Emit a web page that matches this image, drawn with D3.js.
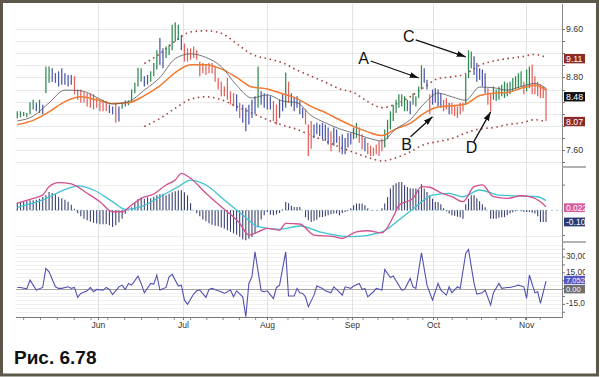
<!DOCTYPE html>
<html>
<head>
<meta charset="utf-8">
<script src="https://cdn.jsdelivr.net/npm/d3@7"></script>
<style>
  body { margin: 0; background: #fff; }
  svg { display: block; }
  text { font-family: Arial, "Liberation Sans", sans-serif; }
</style>
</head>
<body>
<svg id="chart" width="600" height="377"></svg>
<script>
// ---- price bars (high / low), one per session ----
const hi = [
  8.24,8.24,8.23,8.21,8.39,8.43,8.38,8.43,8.35,8.98, 8.98,8.95,8.87,8.90,8.95,8.87,8.84,8.84,8.82,8.60,
  8.60,8.56,8.54,8.54,8.52,8.46,8.43,8.43,8.41,8.35, 8.32,8.38,8.32,8.39,8.42,8.42,8.60,8.71,8.96,8.95,
  8.82,8.84,8.90,
  9.04,9.25,9.45,9.28,9.31,9.34,9.67,9.71,9.67,9.50, 9.36,9.28,9.28,9.31,9.25,9.06,9.04,9.01,9.04,9.04,
  8.98,8.79,8.73,8.65,8.79,8.57,8.54,8.52,8.38,8.35, 8.30,8.35,8.43,8.49,8.98,8.57,8.54,8.52,8.49,8.41,
  8.35,8.43,8.52,8.88,
  8.73,8.54,8.46,8.49,8.41,8.30,8.27,8.02,8.08,8.02, 8.05,8.02,8.05,8.02,7.97,7.91,7.97,7.94,7.83,7.86,
  7.80,7.88,7.88,7.97,8.05,7.97,7.86,7.80,7.72,7.67, 7.64,7.69,7.75,7.78,7.94,8.10,8.24,8.35,8.43,8.52,
  8.52,8.49,8.43,8.41,8.54,8.49,8.65,
  9.00,8.95,8.76,8.52,8.60,8.62,8.60,8.54,8.43,8.46, 8.38,8.38,8.35,8.32,8.38,8.38,8.84,9.25,9.23,9.15,
  9.04,8.95,8.93,8.87,8.62,8.52,8.65,8.60,8.65,8.68, 8.73,8.71,8.73,8.79,8.82,8.87,8.90,8.73,8.93,8.98,
  9.01,8.82,8.73,8.68,8.65,8.62
];
const lo = [
  8.12,8.14,8.16,8.14,8.19,8.27,8.24,8.21,8.19,8.54, 8.71,8.73,8.71,8.65,8.68,8.68,8.65,8.68,8.52,8.43,
  8.38,8.38,8.32,8.30,8.27,8.30,8.24,8.24,8.24,8.21, 8.19,8.05,8.07,8.28,8.32,8.34,8.38,8.54,8.65,8.73,
  8.65,8.68,8.73,
  8.82,8.93,9.01,8.95,9.12,9.17,9.25,9.39,9.42,9.25, 9.06,9.06,9.09,9.12,9.09,8.82,8.87,8.84,8.87,8.87,
  8.73,8.60,8.49,8.49,8.43,8.35,8.32,8.24,8.13,8.05, 7.91,8.02,8.13,8.19,8.30,8.35,8.30,8.27,8.27,8.08,
  8.02,8.13,8.24,8.30,
  8.38,8.32,8.24,8.30,8.19,8.13,8.02,7.50,7.62,7.80, 7.86,7.83,7.78,7.75,7.69,7.58,7.67,7.72,7.56,7.53,
  7.53,7.64,7.69,7.78,7.80,7.72,7.61,7.58,7.53,7.50, 7.50,7.53,7.50,7.58,7.64,7.78,7.94,8.08,8.21,8.30,
  8.32,8.24,8.24,8.19,8.35,8.32,8.46,
  8.60,8.71,8.60,8.19,8.35,8.38,8.32,8.30,8.24,8.27, 8.19,8.19,8.16,8.13,8.19,8.24,8.35,8.79,8.95,8.84,
  8.73,8.76,8.65,8.54,8.35,8.24,8.43,8.41,8.43,8.49, 8.46,8.49,8.52,8.57,8.60,8.62,8.65,8.52,8.57,8.62,
  8.52,8.52,8.49,8.46,8.46,8.08
];
// impulse colour of each bar: g = up, r = down, b = neutral
const impulse = (
  "ggggggbgbg" + "gbbbbbbbrr" + "rrrrrrrrrb" + "brbgbggggg" + "bbg" +
  "ggbbgggggb" + "rrrrrrrrrr" + "rrrrrrrbrb" + "bbbbgbbbbr" + "rbbg" +
  "rbbbbbrrrb" + "bbbbbrbbrb" + "bbbbgrrbrr" + "rrrrgggggg" + "gggbggg" +
  "gbbrbbbbrr" + "brrrrrgggb" + "bbbbrrgggg" + "gggggggrgg" + "rrrrrr"
).split("");

// ---- moving averages and channel, read every 5 bars ----
const STEP = 5;
const emaFast = [8.08,8.16,8.38,8.59,8.58,8.47,8.36,8.40,8.59,8.80,9.11,9.19,9.13,8.98,8.67,8.46,8.51,8.41,
  8.38,8.17,8.05,7.95,7.88,7.80,7.75,7.95,8.10,8.37,8.54,8.48,8.42,8.64,8.63,8.59,8.65,8.70,8.62];
const emaSlow = [8.02,8.09,8.23,8.40,8.48,8.43,8.37,8.38,8.50,8.66,8.88,9.01,9.01,8.94,8.80,8.64,8.61,8.53,
  8.45,8.32,8.22,8.10,7.99,7.90,7.84,7.95,8.04,8.21,8.31,8.33,8.36,8.50,8.54,8.55,8.62,8.67,8.59];
const bandUp = [null,null,null,null,null,null,null,null,
  9.03,9.19,9.40,9.55,9.57,9.53,9.36,9.18,9.11,9.04,8.92,8.82,8.72,8.61,8.55,8.40,8.30,8.36,8.48,8.64,
  8.78,8.81,8.86,9.00,9.07,9.11,9.14,9.18,9.13];
const bandLo = [null,null,null,null,null,null,null,null,
  7.99,8.12,8.29,8.44,8.48,8.43,8.32,8.21,8.10,8.01,7.94,7.84,7.75,7.65,7.56,7.48,7.42,7.47,7.57,7.69,
  7.74,7.79,7.88,7.95,7.97,8.02,8.05,8.10,8.07];

// ---- MACD: histogram per bar, lines as [bar, value] ----
const macdHist = [
  .053,.058,.059,.065,.069,.069,.074,.081,.092,.104, .127,.120,.111,.092,.083,.073,.059,.038,.010,-.021,
  -.042,-.059,-.069,-.080,-.087,-.092,-.097,-.097,-.097,-.104, -.116,-.104,-.083,-.059,-.024,-.003,.021,.052,.076,.087,
  .081,.090,.083,.094,.104,.111,.115,.104,.115,.125, .132,.137,.139,.125,.104,.049,.003,-.021,-.042,-.063,
  -.076,-.090,-.101,-.108,-.111,-.120,-.127,-.139,-.149,-.160, -.170,-.184,-.201,-.208,-.197,-.185,-.162,-.118,-.063,-.035,
  -.012,-.031,-.035,-.028,-.019,.005,.058,.049,.031, .023,.023,.023,0,-.047,-.069,-.081,-.073,-.065,-.049,
  -.047,-.042,-.035,-.028,-.023,-.023,-.035,-.019,-.012,-.005, .014,.035,.047,.047,.047,.035,.014,.003,.003,.003,
  .003,.014,.047,.092,.151,.174,.188,.197,.197,.174, .162,.153,.151,.151,.139,.181,.151,.127,.104,.081,
  .058,.058,.042,.014,-.007,-.023,-.035,-.038,-.045,-.049, -.058,.042,.081,.104,.104,.083,.063,.042,.021,0,
  -.058,-.058,-.058,-.052,-.049,-.047,-.035,-.023,-.014,-.007, .003,-.007,-.012,-.012,-.012,-.017,-.023,-.042,-.081,-.081,-.081
];
const macdLine = [[0,.050],[5,.083],[8,.106],[10,.164],[13,.192],[17,.183],[22,.118],[26,.060],[30,-.010],[33,-.010],
  [36,.037],[39,.083],[43,.113],[47,.176],[50,.210],[52,.257],[55,.222],[60,.118],[65,.025],[71,-.090],[74,-.172],
  [77,-.149],[80,-.125],[84,-.137],[86,-.090],[91,-.095],[96,-.172],[103,-.183],[106,-.194],[111,-.149],[115,-.142],
  [120,-.156],[124,-.045],[126,.035],[131,.083],[134,.164],[137,.160],[141,.122],[145,.095],[149,.060],[153,.164],
  [156,.176],[160,.095],[165,.083],[170,.101],[173,.095],[177,.060],[179,.025]];
const signalLine = [[0,.021],[8,.072],[16,.153],[19,.169],[24,.141],[30,.060],[34,.007],[39,.025],[45,.094],[51,.164],
  [55,.210],[60,.176],[66,.072],[72,-.033],[77,-.114],[84,-.132],[91,-.109],[98,-.149],[109,-.183],[120,-.149],
  [126,-.067],[132,.025],[138,.106],[144,.118],[149,.094],[155,.141],[162,.106],[170,.099],[176,.094],[179,.067]];

// ---- lower oscillator, [bar, value] ----
const osc = [[0,1.1],[1,1.1],[3,-0.2],[4,8.1],[5,3.3],[6,-1.4],[8,1.1],[9,19.2],[10,16],[12,1.7],[13,0.2],[14,0.2],
  [16,1.7],[17,0.2],[18,1.1],[19,-8.4],[20,-4.6],[22,-2.1],[23,1.1],[24,-3],[25,-0.8],[27,-1.4],[28,1.1],[29,-0.8],
  [30,-5.6],[32,1.7],[33,3.3],[34,-0.8],[35,4.9],[36,3.3],[38,11.9],[39,4.9],[40,-4],[42,4.9],[43,4.3],[44,12.9],
  [45,-1.4],[47,1.1],[48,11.3],[49,13.5],[51,2.4],[52,3.3],[53,-11],[54,-14.8],[56,-5.2],[57,-2.1],[58,-1.4],
  [60,-8.4],[61,-0.8],[62,0.2],[64,-2.1],[65,-3],[66,-4.6],[68,-1.4],[69,-7.8],[70,-2.1],[72,-7.8],[73,-26.8],
  [74,4.9],[75,11.3],[76,35],[78,-2.1],[79,-3],[80,-2.1],[82,-9.4],[83,1.1],[84,3.3],[86,35],[87,-7.1],[89,-7.1],
  [90,0.2],[91,-4],[92,-4.6],[93,-7.8],[94,-17.3],[96,-6.2],[97,2.4],[99,0.2],[100,-2.1],[102,-4],[103,1.7],
  [104,-0.8],[106,-6.2],[107,1.7],[109,0.2],[110,2.4],[112,4.9],[113,-0.8],[114,0.2],[115,-7.8],[117,-3],[118,0.2],
  [120,-1.4],[121,18.3],[123,10.6],[124,11.9],[125,7.5],[127,-1.4],[128,-0.8],[130,9.7],[131,1.7],[132,0.2],
  [134,34.1],[136,3.3],[137,-4],[138,-11],[140,4.9],[141,-1.4],[143,-6.2],[144,1.7],[145,-4],[147,1.7],[148,0.2],
  [150,33.5],[151,37.3],[153,4.9],[154,-5.2],[156,-4],[157,-1.4],[159,-15.7],[160,-4],[162,4.9],[163,0.2],
  [165,1.1],[166,1.1],[168,2.4],[169,3.3],[171,1.7],[172,-9.4],[173,12.9],[175,-4],[176,-3],[177,-14.1],[179,7.05]];

// ---- axis labels ----
const months = ["Jun", "Jul", "Aug", "Sep", "Oct", "Nov"];
const monthAt = [25.4, 52.5, 79.9, 109.4, 138.2, 171.8];
const priceLabels = [9.6, 8.8, 7.6];
const oscLabels = [[30, "30,00"], [15, "15,00"], [-15, "-15,00"]];
const priceBadges = [[9.11, "9.11", "#8e2b28"], [8.48, "8.48", "#111111"], [8.07, "8.07", "#8e2b28"]];
const notes = [["A", 133, 8.79], ["B", 138, 8.15], ["C", 150, 9.14], ["D", 159, 8.23]];

// ---- layout ----
const svg = d3.select("#chart");
const plot = { left: 16, right: 562, top: 4, axisY: 317 };
const N = hi.length;
const colors = { g: "#2f8a52", b: "#4c57a8", r: "#e4605a" };

const x = d3.scaleLinear().domain([0, 42, 86, 133, N - 1]).range([17.3, 150.7, 285.7, 418.7, 546]);
const y = d3.scaleLinear().domain([7.6, 9.6]).range([150, 29]);
const yM = d3.scaleLinear().domain([-0.22, 0.30]).range([242, 167.1]);
const yO = d3.scaleLinear().domain([-27, 44.3]).range([317, 242]);

svg.append("rect").attr("width", 600).attr("height", 377).attr("fill", "#fff");

// grids
const grid = svg.append("g").attr("stroke-width", 1).attr("fill", "none");
const priceGrid = d3.range(37, 49).map(v => v / 5);
grid.selectAll(".pg").data(priceGrid).enter().append("line")
  .attr("x1", plot.left).attr("x2", plot.right)
  .attr("y1", d => Math.round(y(d)) + 0.5).attr("y2", d => Math.round(y(d)) + 0.5)
  .attr("stroke", "#e9e9e9");
grid.selectAll(".mg").data([-0.175, 0.175]).enter().append("line")
  .attr("x1", plot.left).attr("x2", plot.right)
  .attr("y1", d => Math.round(yM(d)) + 0.5).attr("y2", d => Math.round(yM(d)) + 0.5)
  .attr("stroke", "#ededed");
grid.selectAll(".og").data(d3.range(-6, 12).filter(k => k !== 0).map(k => k * 3.75)).enter().append("line")
  .attr("x1", plot.left).attr("x2", plot.right)
  .attr("y1", d => Math.round(yO(d)) + 0.5).attr("y2", d => Math.round(yO(d)) + 0.5)
  .attr("stroke", "#f1f1f1");
grid.selectAll(".vg").data(monthAt).enter().append("line")
  .attr("x1", d => Math.round(x(d)) + 0.5).attr("x2", d => Math.round(x(d)) + 0.5)
  .attr("y1", plot.top).attr("y2", plot.axisY)
  .attr("stroke", "#e2e2e2");

// channel
const bandLine = d3.line()
  .defined(d => d != null)
  .x((d, k) => x(Math.min(k * STEP, N - 1)))
  .y(d => y(d))
  .curve(d3.curveMonotoneX);
[bandUp, bandLo].forEach(b => {
  svg.append("path").attr("d", bandLine(b))
    .attr("fill", "none").attr("stroke", "#a1403c").attr("stroke-width", 1.6)
    .attr("stroke-dasharray", "1.5,3.6");
});

// bars
svg.append("g").selectAll("line").data(hi).enter().append("line")
  .attr("x1", (d, i) => x(i)).attr("x2", (d, i) => x(i))
  .attr("y1", d => y(d)).attr("y2", (d, i) => y(lo[i]))
  .attr("stroke", (d, i) => colors[impulse[i]])
  .attr("stroke-width", 1.25);

// moving averages
const maLine = d3.line()
  .x((d, k) => x(Math.min(k * STEP, N - 1)))
  .y(d => y(d))
  .curve(d3.curveMonotoneX);
svg.append("path").attr("d", maLine(emaSlow))
  .attr("fill", "none").attr("stroke", "#f17a32").attr("stroke-width", 1.5);
svg.append("path").attr("d", maLine(emaFast))
  .attr("fill", "none").attr("stroke", "#555").attr("stroke-width", 0.8);

// MACD panel
svg.append("line").attr("x1", plot.left).attr("x2", plot.right)
  .attr("y1", yM(0)).attr("y2", yM(0))
  .attr("stroke", "#8fcbe0").attr("stroke-dasharray", "2,3");
svg.append("g").selectAll("line").data(macdHist).enter().append("line")
  .attr("x1", (d, i) => x(i)).attr("x2", (d, i) => x(i))
  .attr("y1", yM(0)).attr("y2", d => yM(d))
  .attr("stroke", "#3b4270").attr("stroke-width", 1.1);
const pairLine = sc => d3.line().x(d => x(d[0])).y(d => sc(d[1])).curve(d3.curveMonotoneX);
svg.append("path").attr("d", pairLine(yM)(signalLine))
  .attr("fill", "none").attr("stroke", "#3fc2d4").attr("stroke-width", 1.3);
svg.append("path").attr("d", pairLine(yM)(macdLine))
  .attr("fill", "none").attr("stroke", "#d2508c").attr("stroke-width", 1.3);

// oscillator panel
svg.append("line").attr("x1", plot.left).attr("x2", plot.right)
  .attr("y1", Math.round(yO(0)) + 0.5).attr("y2", Math.round(yO(0)) + 0.5)
  .attr("stroke", "#a5a5a5");
svg.append("path")
  .attr("d", d3.line().x(d => x(d[0])).y(d => yO(d[1]))(osc))
  .attr("fill", "none").attr("stroke", "#5352b0").attr("stroke-width", 1.1);

// bottom axis
const xAxis = d3.axisBottom(x)
  .tickValues(monthAt)
  .tickFormat((d, i) => months[i])
  .tickSize(3).tickPadding(2);
const xg = svg.append("g").attr("transform", `translate(0,${plot.axisY})`).call(xAxis);
xg.select(".domain").attr("d", `M${plot.left},0.5H${plot.right}`).attr("stroke", "#777");
xg.selectAll(".tick line").attr("stroke", "#777");
xg.selectAll(".tick text").attr("font-size", 8.5).attr("fill", "#333")
  .attr("font-family", "Arial, 'Liberation Sans', sans-serif");
xg.selectAll(".minor").data(d3.range(2, N, 5.3)).enter().append("line")
  .attr("x1", d => x(d)).attr("x2", d => x(d)).attr("y1", 0.5).attr("y2", 3)
  .attr("stroke", "#888");

// right axis
const ax = svg.append("g");
ax.append("line").attr("x1", plot.right + 0.5).attr("x2", plot.right + 0.5)
  .attr("y1", plot.top).attr("y2", plot.axisY + 1)
  .attr("stroke", "#8a8a8a");
[167, 242].forEach(v => ax.append("line").attr("x1", plot.right).attr("x2", 586)
  .attr("y1", v).attr("y2", v).attr("stroke", "#9a9a9a").attr("stroke-width", 1.5));
ax.selectAll(".pt").data(priceGrid).enter().append("line")
  .attr("x1", plot.right).attr("x2", plot.right + 3)
  .attr("y1", d => Math.round(y(d)) + 0.5).attr("y2", d => Math.round(y(d)) + 0.5).attr("stroke", "#777");
ax.selectAll(".mt").data([-0.175, 0.175]).enter().append("line")
  .attr("x1", plot.right).attr("x2", plot.right + 3)
  .attr("y1", d => yM(d)).attr("y2", d => yM(d)).attr("stroke", "#777");
ax.selectAll(".ot").data(d3.range(-3, 6).map(k => k * 7.5)).enter().append("line")
  .attr("x1", plot.right).attr("x2", plot.right + 3)
  .attr("y1", d => yO(d)).attr("y2", d => yO(d)).attr("stroke", "#777");

svg.append("clipPath").attr("id", "lab").append("rect")
  .attr("x", plot.right).attr("y", 0).attr("width", 585 - plot.right).attr("height", 377);
const lab = svg.append("g").attr("clip-path", "url(#lab)");
lab.selectAll(".pl").data(priceLabels).enter().append("text")
  .attr("x", plot.right + 4).attr("y", d => y(d)).attr("dy", "0.35em")
  .attr("font-size", 8.8).attr("fill", "#333").text(d => d.toFixed(2));
lab.selectAll(".ol").data(oscLabels).enter().append("text")
  .attr("x", plot.right + 4).attr("y", d => yO(d[0]) - 1).attr("dy", "0.35em")
  .attr("font-size", 8.3).attr("fill", "#333").text(d => d[1]);

const badge = (yy, txt, fill, h, fs) => {
  lab.append("rect").attr("x", plot.right + 2).attr("y", yy - h / 2).attr("width", 30).attr("height", h)
    .attr("fill", fill);
  lab.append("text").attr("x", plot.right + 4).attr("y", yy).attr("dy", "0.35em")
    .attr("font-size", fs).attr("fill", "#fff").text(txt);
};
priceBadges.forEach(b => badge(y(b[0]), b[1], b[2], 9.4, 8.8));
badge(yM(macdLine[macdLine.length - 1][1]) + 1, "0.022", "#d65a9c", 8.8, 8.5);
badge(yM(macdHist[N - 1]), "-0.10", "#2d3874", 8.8, 8.5);
badge(yO(0) + 0.6, "0.00", "#6f6f6f", 8.4, 7.6);
badge(yO(osc[osc.length - 1][1]) - 1.2, "7,052", "#5558bf", 8.4, 7.6);

// annotations
svg.append("defs").append("marker").attr("id", "arr")
  .attr("viewBox", "0 0 9 6").attr("refX", 9).attr("refY", 3)
  .attr("markerWidth", 9).attr("markerHeight", 6).attr("markerUnits", "userSpaceOnUse")
  .attr("orient", "auto")
  .append("path").attr("d", "M0,0L9,3L0,6Z").attr("fill", "#111");
const offs = { A: [-55, -20, -48, -17], B: [-26, 28, -22, 20], C: [-57, -21, -50, -17], D: [-19, 35, -17, 30] };
notes.forEach(([t, i, p]) => {
  const tx = x(i), ty = y(p), o = offs[t];
  svg.append("line").attr("x1", tx + o[2]).attr("y1", ty + o[3]).attr("x2", tx).attr("y2", ty)
    .attr("stroke", "#111").attr("stroke-width", 1.3).attr("marker-end", "url(#arr)");
  svg.append("text").attr("x", tx + o[0]).attr("y", ty + o[1]).attr("dy", "0.36em")
    .attr("text-anchor", "middle").attr("font-size", 16).attr("fill", "#111").text(t);
});

// caption and frame
svg.append("text").attr("x", 14).attr("y", 363.5).attr("font-size", 19).attr("font-weight", "bold")
  .attr("fill", "#111").text("Рис. 6.78");
svg.append("rect").attr("x", 1.5).attr("y", 1.5).attr("width", 596).attr("height", 373.5)
  .attr("fill", "none").attr("stroke", "#5d564b").attr("stroke-width", 3);
</script>
</body>
</html>
